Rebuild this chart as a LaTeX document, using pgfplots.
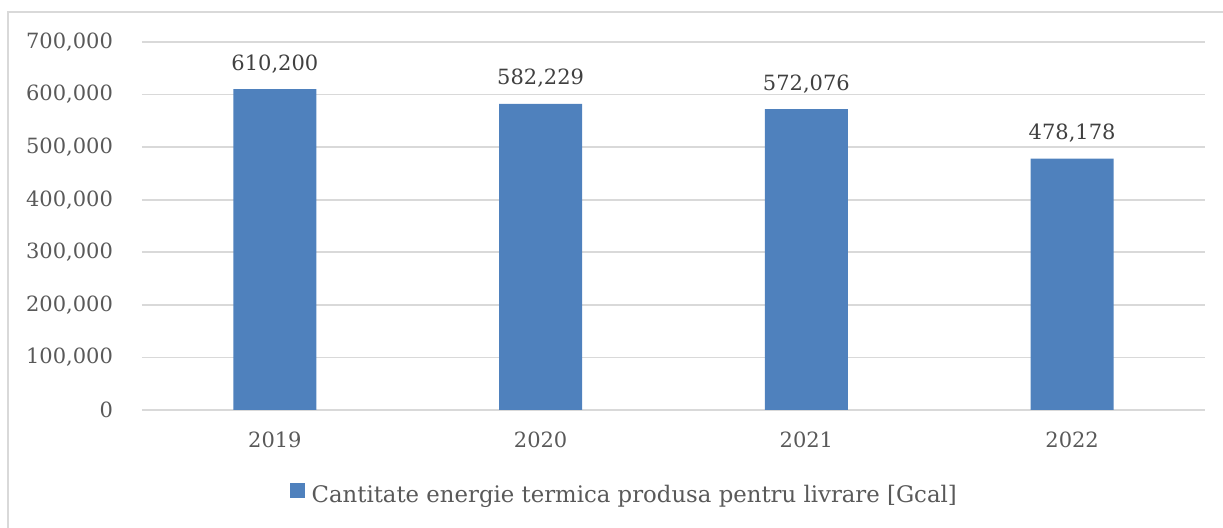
\documentclass[border=0pt]{standalone}
\usepackage{fontspec}
\setmainfont{DejaVu Serif}
\usepackage{pgfplots}
\pgfplotsset{compat=1.18}
\definecolor{barblue}{HTML}{4F81BD}
\definecolor{gridgray}{HTML}{D9D9D9}
\definecolor{txtgray}{HTML}{595959}
\definecolor{lblgray}{HTML}{404040}
\begin{document}
\begin{tikzpicture}
\useasboundingbox (0pt,0pt) rectangle (611.5pt,264pt);
\draw[gridgray, line width=0.8pt] (4pt,-5pt) rectangle (620pt,258pt);
\begin{axis}[
  at={(71pt,59pt)}, anchor=south west,
  scale only axis, width=531.5pt, height=184pt,
  xmin=-0.5, xmax=3.5, ymin=0, ymax=700000,
  xtick={0,1,2,3}, xticklabels={2019,2020,2021,2022},
  ytick={0,100000,...,700000},
  scaled y ticks=false,
  ymajorgrids, grid style={gridgray, line width=0.8pt},
  axis line style={draw=none},
  major tick length=0pt,
  font=\fontsize{10.5}{12}\selectfont,
  tick label style={txtgray},
  /pgf/number format/assume math mode=true,
  /pgf/number format/.cd, fixed, 1000 sep={,}, /pgfplots/.cd,
  yticklabel style={xshift=-11pt},
  xticklabel style={yshift=-7.5pt},
  ybar, bar width=41.5pt,
  nodes near coords,
  every node near coord/.append style={lblgray, yshift=4.5pt, font=\fontsize{10.5}{12}\selectfont},
  legend style={at={(0.456,-0.231)}, anchor=center, draw=none, fill=none,
    font=\fontsize{11.4}{13}\selectfont, text=txtgray,
    nodes={inner xsep=3.5pt}},
  legend image code/.code={\fill[barblue] (1.5pt,-1.3pt) rectangle (9pt,6.2pt);},
]
\addplot[fill=barblue, draw=none] coordinates {(0,610200) (1,582229) (2,572076) (3,478178)};
\addlegendentry{Cantitate energie termica produsa pentru livrare [Gcal]}
\end{axis}
\end{tikzpicture}
\end{document}
